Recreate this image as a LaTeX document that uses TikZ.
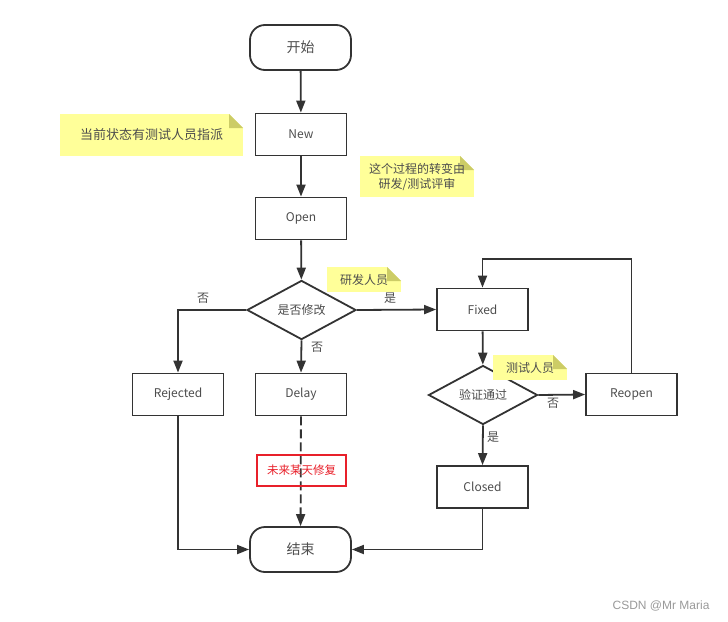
\documentclass[tikz,border=0pt]{standalone}
\usepackage{fontspec}
\setmainfont{Noto Sans CJK SC}
\newfontfamily\markfont{Liberation Sans}
\usepackage{tikz}
\usetikzlibrary{positioning, arrows.meta, shapes.geometric}
\definecolor{lineGray}{HTML}{333333}
\definecolor{textGray}{HTML}{4D4D4D}
\definecolor{memoYellow}{HTML}{FFFF99}
\definecolor{memoFold}{HTML}{CCCC66}
\definecolor{markRed}{HTML}{E8202A}

\tikzset{
  flowline/.style={lineGray, line width=1.8pt},
  flowarrow/.style={flowline, -{Triangle[length=12pt, width=9pt]}},
  terminal/.style={draw=lineGray, line width=1.8pt, rounded corners=15pt,
    minimum width=101pt, minimum height=45pt, text=textGray,
    font=\fontsize{14}{16}\selectfont},
  statebox/.style={draw=lineGray, line width=1.8pt, fill=white,
    minimum width=91pt, minimum height=42pt, text=textGray,
    font=\fontsize{12}{14}\selectfont},
  decision/.style={diamond, draw=lineGray, line width=1.8pt, fill=white,
    minimum width=109pt, minimum height=54pt, inner sep=0pt, text=textGray,
    font=\fontsize{12}{14}\selectfont},
  memo/.style={fill=memoYellow, text=textGray, align=center, inner sep=0pt,
    font=\fontsize{12}{15}\selectfont,
    path picture={
      \fill[white] ([xshift=-14pt]path picture bounding box.north east)
        -- (path picture bounding box.north east)
        -- ([yshift=-14pt]path picture bounding box.north east) -- cycle;
      \fill[memoFold] ([xshift=-14pt]path picture bounding box.north east)
        -- ([xshift=-14pt, yshift=-14pt]path picture bounding box.north east)
        -- ([yshift=-14pt]path picture bounding box.north east) -- cycle;
    }},
  edgelabel/.style={text=textGray, font=\fontsize{12}{14}\selectfont},
}

\begin{document}
\begin{tikzpicture}[x=1pt, y=-1pt]
    \useasboundingbox (0,0) rectangle (728,621);
    % Main column
    \node[terminal] (start)  at (300.5, 47.5) {开始};
    \node[statebox] (new)    at (301, 134.5)  {New};
    \node[statebox] (open)   at (301, 218.5)  {Open};
    \node[decision] (modify) at (301.5, 310)  {是否修改};
    \node[statebox] (reject) at (178, 394.5)  {Rejected};
    \node[statebox] (delay)  at (301, 394.5)  {Delay};
    \node[terminal] (finish) at (300.5, 549.5) {结束};
    % Right column
    \node[statebox] (fixed)  at (482.5, 309.5) {Fixed};
    \node[decision] (verify) at (483, 395)     {验证通过};
    \node[statebox] (reopen) at (631.5, 394.5) {Reopen};
    \node[statebox] (closed) at (482.5, 487)   {Closed};
    \coordinate (loop) at (482.5, 259);
    % Connectors
    \draw[flowarrow] (start) -- (new);
    \draw[flowarrow] (new) -- (open);
    \draw[flowarrow] (open) -- (modify);
    \draw[flowarrow] (modify.east) -- (fixed.west);
    \draw[flowarrow] (modify.west) -| (reject.north);
    \draw[flowarrow] (modify.south) -- (delay.north);
    \draw[flowarrow, dash pattern=on 9pt off 4pt] (delay) -- (finish);
    \draw[flowarrow] (reject.south) |- (finish.west);
    \draw[flowarrow] (closed.south) |- (finish.east);
    \draw[flowarrow] (fixed) -- (verify);
    \draw[flowarrow] (verify.east) -- (reopen.west);
    \draw[flowarrow] (verify.south) -- (closed.north);
    \draw[flowarrow] (reopen.north) |- (loop) -- (fixed.north);
    % Branch labels
    \node[edgelabel] (yes1) at (390, 298) {是};
    \node[edgelabel] (no1)  at (203, 298) {否};
    \node[edgelabel] (no2)  at (317, 347) {否};
    \node[edgelabel] (no3)  at (553, 403) {否};
    \node[edgelabel] (yes2) at (493, 437) {是};
    % Notes
    \node[memo, minimum width=183pt, minimum height=42pt,
      font=\fontsize{13}{15}\selectfont] (memoA) at (151.5, 135)
      {当前状态有测试人员指派};
    \node[memo, minimum width=114pt, minimum height=41pt] (memoB)
      at (417, 176.5) {这个过程的转变由\\研发/测试评审};
    \node[memo, minimum width=74pt, minimum height=25pt] (memoC)
      at (364, 279.5) {研发人员};
    \node[memo, minimum width=74pt, minimum height=25pt] (memoD)
      at (530, 367.5) {测试人员};
    % Remark on the dashed path
    \node[draw=markRed, line width=2pt, text=markRed, minimum width=89pt,
      minimum height=31pt, font=\fontsize{11.5}{13}\selectfont] (someday)
      at (301.5, 470.5) {未来某天修复};
    % Watermark
    \node[text=gray!80, font=\markfont\fontsize{12}{14}\selectfont,
      anchor=east] (mark) at (713, 606) {CSDN @Mr Maria};
\end{tikzpicture}
\end{document}
